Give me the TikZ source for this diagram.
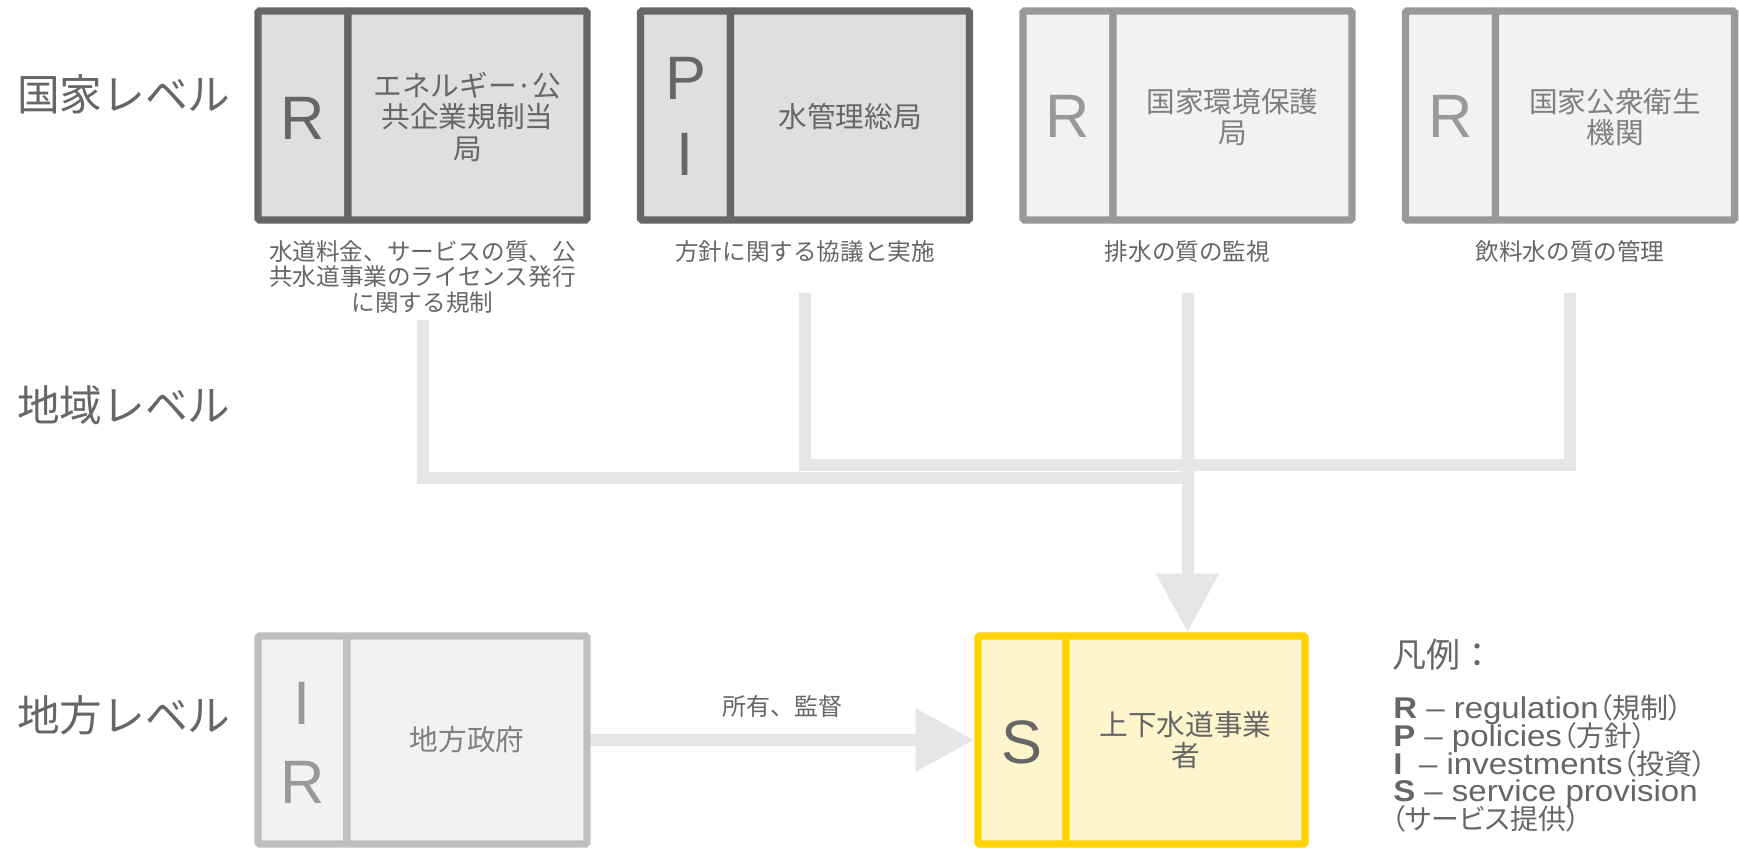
\documentclass[tikz,border=0pt]{standalone}
\usepackage{fontspec}
\setmainfont{Noto Sans CJK JP}
\newfontfamily\arial{Liberation Sans}
\newfontfamily\legfont[FakeStretch=1.1]{Liberation Sans}
\newfontfamily\jp{Noto Sans CJK JP}
\newfontfamily\jpp[RawFeature=+palt]{Noto Sans CJK JP}
\usetikzlibrary{fit,arrows.meta,backgrounds}

\definecolor{darkline}{HTML}{666666}
\definecolor{darkfill}{HTML}{DFDFDF}
\definecolor{midline}{HTML}{999999}
\definecolor{lightfill}{HTML}{F2F2F2}
\definecolor{paleline}{HTML}{BFBFBF}
\definecolor{goldline}{HTML}{FFD200}
\definecolor{goldfill}{HTML}{FFF5CC}
\definecolor{connc}{HTML}{E6E6E6}
\definecolor{txtdark}{HTML}{666666}
\definecolor{txtmid}{HTML}{7F7F7F}
\definecolor{txtlight}{HTML}{999999}

\tikzset{
  cell/.style={rectangle, inner sep=0pt, line width=5.6pt, rounded corners=1.2pt},
  natA/.style={cell, draw=darkline, fill=darkfill},
  natB/.style={cell, draw=midline, fill=lightfill},
  locA/.style={cell, draw=paleline, fill=lightfill},
  util/.style={cell, draw=goldline, fill=goldfill},
  letter/.style={font=\arial\fontsize{46}{52}\selectfont, inner sep=0pt},
  title/.style={font=\jp\fontsize{21.5}{23.5}\selectfont, align=center, inner sep=0pt},
  caption/.style={font=\jp\fontsize{17.7}{19}\selectfont, text=txtdark, align=center, inner sep=0pt},
  level/.style={font=\jp\fontsize{32}{38}\selectfont, text=txtdark, anchor=west, inner sep=0pt},
  conn/.style={draw=connc, line width=9pt},
  tip/.style={-{Triangle[length=44pt,width=45pt]}},
  edgelabel/.style={font=\jp\fontsize{18}{20}\selectfont, text=txtdark, inner sep=0pt},
  legendhead/.style={font=\jp\fontsize{25.5}{28}\selectfont, text=txtdark, anchor=base west, inner sep=0pt},
  legendline/.style={font=\legfont\fontsize{22.5}{21}\selectfont, text=txtdark, anchor=base west, inner sep=0pt},
}
\newcommand{\js}[1]{{\jpp\fontsize{21}{21}\selectfont #1}}

\begin{document}
\begin{tikzpicture}[x=0.75pt, y=-0.75pt]
\useasboundingbox (0,0) rectangle (1739,851);

% level labels
\node[level] (lv1) at (17,94) {国家レベル};
\node[level] (lv2) at (17,405) {地域レベル};
\node[level] (lv3) at (17,715) {地方レベル};

% national boxes (cells)
\node[natA, fit={(258,11) (348,220)}] (l1) {};
\node[natA, fit={(348,11) (587,220)}] (t1) {};
\node[natA, fit={(640.5,11) (730.5,220)}] (l2) {};
\node[natA, fit={(730.5,11) (969.5,220)}] (t2) {};
\node[natB, fit={(1023,11) (1113,220)}] (l3) {};
\node[natB, fit={(1113,11) (1352,220)}] (t3) {};
\node[natB, fit={(1405.5,11) (1495.5,220)}] (l4) {};
\node[natB, fit={(1495.5,11) (1734.5,220)}] (t4) {};

% national box texts
\node[letter, text=txtdark] (x1) at ([yshift=-2pt]l1.center) {R};
\node[title, text=txtdark] (y1) at ([yshift=-1pt]t1.center) {エネルギー·公\\共企業規制当\\局};
\node[letter, text=txtdark] (x2a) at ([yshift=27.5pt]l2.center) {P};
\node[letter, text=txtdark] (x2b) at ([yshift=-29.5pt]l2.center) {I};
\node[title, text=txtdark] (y2) at ([yshift=-1pt]t2.center) {水管理総局};
\node[letter, text=txtlight] (x3) at ([yshift=-1pt]l3.center) {R};
\node[title, text=txtmid] (y3) at ([yshift=-1pt]t3.center) {国家環境保護\\局};
\node[letter, text=txtlight] (x4) at ([yshift=-1pt]l4.center) {R};
\node[title, text=txtmid] (y4) at ([yshift=-1pt]t4.center) {国家公衆衛生\\機関};

% captions
\node[caption] (c1) at (422.5,277) {水道料金、サービスの質、公\\共水道事業のライセンス発行\\に関する規制};
\node[caption] (c2) at (805,252) {方針に関する協議と実施};
\node[caption] (c3) at (1187.5,252) {排水の質の監視};
\node[caption] (c4) at (1570,252) {飲料水の質の管理};

% local boxes
\node[locA, fit={(258,636) (347,844)}] (l5) {};
\node[locA, fit={(347,636) (587,844)}] (t5) {};
\node[util, fit={(978,636) (1066,844)}] (l6) {};
\node[util, fit={(1066,636) (1305,844)}] (t6) {};

\node[letter, text=txtlight] (x5a) at ([yshift=27.5pt]l5.center) {I};
\node[letter, text=txtlight] (x5b) at ([yshift=-32pt]l5.center) {R};
\node[title, text=txtmid] (y5) at (t5.center) {地方政府};
\node[letter, text=txtdark] (x6) at ([yshift=-1.5pt]l6.center) {S};
\node[title, text=txtdark] (y6) at (t6.center) {上下水道事業\\者};

% connectors
\coordinate (s1) at (422.5,320);
\coordinate (s2) at (805,293);
\coordinate (s3) at (1187.5,293);
\coordinate (s4) at (1570,293);
\coordinate (h1) at (1187.5,478);
\coordinate (h2) at (1187.5,465);
\begin{scope}[on background layer]
  \draw[conn] (s1) |- (h1);
  \draw[conn] (s2) |- (h2) -| (s4);
  \draw[conn, tip] (s3) -- (s3 |- t6.north);
  \draw[conn, tip] (t5.east) -- (l6.west)
    node[edgelabel, midway, above=12.5pt] (e1) {所有、監督};
\end{scope}

% legend
\node[legendhead] (lg0) at (1392,667) {凡例：};
\node[legendline] (lg1) at (1393,718) {\textbf{R} – regulation\js{（規制）}};
\node[legendline] (lg2) at (1393,746) {\textbf{P} – policies\js{（方針）}};
\node[legendline] (lg3) at (1393,774) {\textbf{I}\hspace{0.25em} – investments\js{（投資）}};
\node[legendline] (lg4) at (1393,801) {\textbf{S} – service provision};
\node[legendline] (lg5) at (1391,829) {\js{（サービス提供）}};
\end{tikzpicture}
\end{document}
